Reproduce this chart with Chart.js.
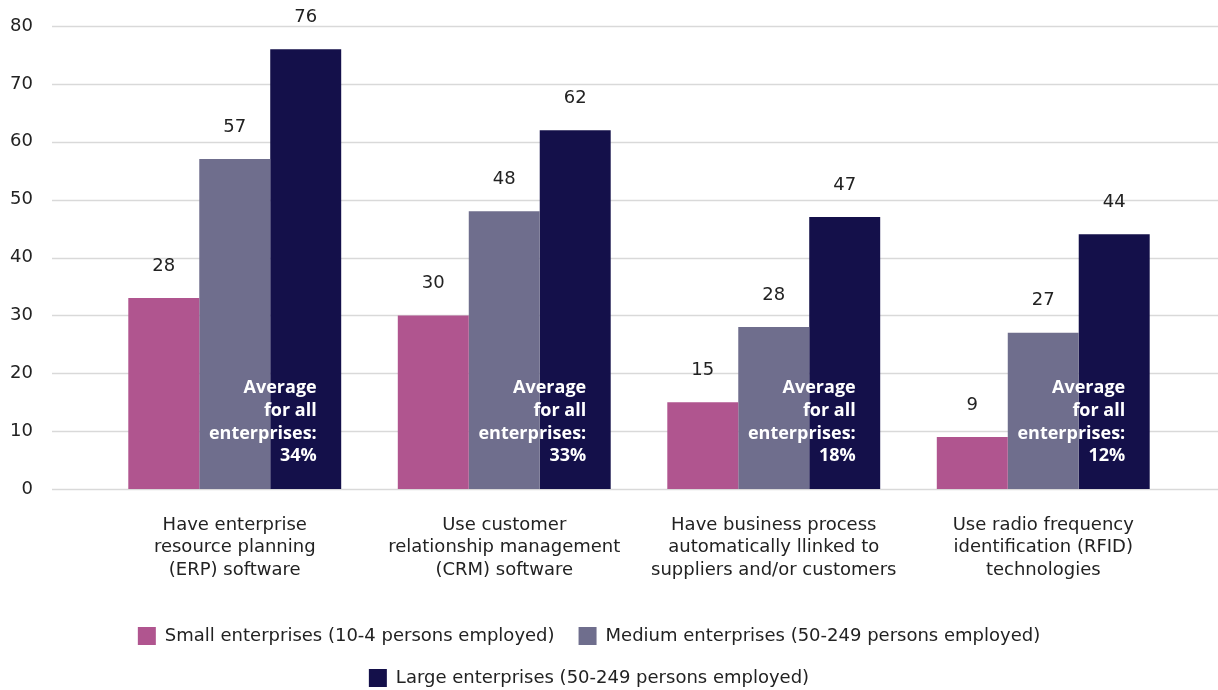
<!DOCTYPE html>
<html>
<head>
<meta charset="utf-8">
<script src="https://cdn.jsdelivr.net/npm/chart.js@4"></script>
<style>
  html, body { margin: 0; padding: 0; background: #fff; }
  #wrap { width: 1218px; height: 690px; }
</style>
</head>
<body>
<div id="wrap"><canvas id="chart" width="1218" height="690"></canvas></div>
<script>
/* ====== DATA ====== */
const categories = [
  ['Have enterprise', 'resource planning', '(ERP) software'],
  ['Use customer', 'relationship management', '(CRM) software'],
  ['Have business process', 'automatically llinked to', 'suppliers and/or customers'],
  ['Use radio frequency', 'identification (RFID)', 'technologies']
]
const seriesNames = [
  'Small enterprises (10-4 persons employed)',
  'Medium enterprises (50-249 persons employed)',
  'Large enterprises (50-249 persons employed)'
]
const smallValues = [33, 30, 15, 9]
const mediumValues = [57, 48, 28, 27]
const largeValues = [76, 62, 47, 44]
// printed labels (the first small bar is labelled 28 in the source)
const smallLabels = ['28', '30', '15', '9']
const mediumLabels = ['57', '48', '28', '27']
const largeLabels = ['76', '62', '47', '44']
const averages = ['34%', '33%', '18%', '12%']
const yTicks = [0, 10, 20, 30, 40, 50, 60, 70, 80]

const FONT = "'DejaVu Sans', sans-serif"
const BOLD_FONT = "'Open Sans', sans-serif"
const TEXT = '#222222'
const colors = ['#b0558f', '#6f6e8d', '#14104a']
const barLabels = [smallLabels, mediumLabels, largeLabels]

Chart.defaults.font.family = FONT
Chart.defaults.font.size = 18
Chart.defaults.color = TEXT

// grid lines that run past the plot area, like the original
const gridPlugin = {
  id: 'wideGrid',
  beforeDatasetsDraw(chart) {
    const { ctx, scales: { y } } = chart
    ctx.save()
    ctx.strokeStyle = '#d9d9d9'
    ctx.lineWidth = 1.5
    yTicks.forEach(v => {
      const py = Math.round(y.getPixelForValue(v)) + 0.5
      ctx.beginPath(); ctx.moveTo(52, py); ctx.lineTo(chart.width, py); ctx.stroke()
    })
    ctx.restore()
  }
}

const labelPlugin = {
  id: 'barLabels',
  afterLayout(chart) {
    // push the legend a little lower, closer to the bottom edge
    chart.legend.top += 7; chart.legend.bottom += 7
  },
  afterDatasetsDraw(chart) {
    const { ctx } = chart
    ctx.save()
    ctx.font = '18px ' + FONT
    ctx.fillStyle = TEXT
    ctx.textAlign = 'center'
    ctx.textBaseline = 'middle'
    chart.data.datasets.forEach((ds, di) => {
      chart.getDatasetMeta(di).data.forEach((el, i) => {
        ctx.fillText(barLabels[di][i], el.x, el.y - 32)
      })
    })
    // average note on the large bars
    ctx.font = 'bold 18px ' + BOLD_FONT
    ctx.fillStyle = '#ffffff'
    ctx.textAlign = 'right'
    const bottom = chart.chartArea.bottom
    chart.getDatasetMeta(2).data.forEach((el, i) => {
      const lines = ['Average', 'for all', 'enterprises:', averages[i]]
      lines.forEach((t, k) => ctx.fillText(t, el.x + 11, bottom - 101 + k * 22.7))
    })
    ctx.restore()
  }
}

new Chart(document.getElementById('chart'), {
  type: 'bar',
  data: {
    labels: categories,
    datasets: [
      { label: seriesNames[0], data: smallValues, backgroundColor: colors[0] },
      { label: seriesNames[1], data: mediumValues, backgroundColor: colors[1] },
      { label: seriesNames[2], data: largeValues, backgroundColor: colors[2] }
    ]
  },
  options: {
    responsive: false,
    animation: false,
    layout: { padding: { top: 26, right: 40, left: 0, bottom: 0 } },
    datasets: { bar: { categoryPercentage: 0.79, barPercentage: 1.0, borderWidth: 0 } },
    scales: {
      x: {
        grid: { display: false, drawTicks: false },
        border: { display: false },
        afterFit: s => { s.height = 107 },
        ticks: { color: TEXT, padding: 25, maxRotation: 0, font: { size: 18, lineHeight: 1.25 } }
      },
      y: {
        min: 0, max: 80,
        afterBuildTicks: s => { s.ticks = yTicks.map(v => ({ value: v })) },
        grid: { display: false, drawTicks: false },
        border: { display: false },
        afterFit: s => { s.width = 100; s.paddingTop = 0; s.paddingBottom = 0 },
        ticks: { color: TEXT, padding: 67, font: { size: 18 } }
      }
    },
    plugins: {
      legend: {
        position: 'bottom',
        labels: { boxWidth: 18, boxHeight: 18, padding: 24, color: TEXT, font: { size: 18 } }
      },
      tooltip: { enabled: false }
    }
  },
  plugins: [gridPlugin, labelPlugin]
})
</script>
</body>
</html>
